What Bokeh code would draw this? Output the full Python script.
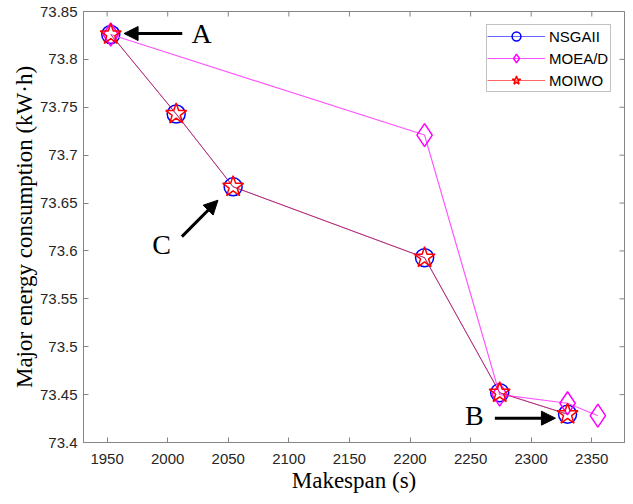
import math
from bokeh.plotting import figure
from bokeh.models import Range1d, FixedTicker, Arrow, NormalHead, Legend, LegendItem
from bokeh.core.properties import value
from bokeh.embed import file_html
from bokeh.resources import INLINE

# ---- data ----
nsga_x = [1953, 2007, 2054, 2212, 2274, 2330]
nsga_y = [73.826, 73.743, 73.667, 73.593, 73.452, 73.4295]
moead_x = [1953, 2212, 2274, 2330, 2355]
moead_y = [73.826, 73.721, 73.450, 73.441, 73.428]
moiwo_x = [1953, 2007, 2054, 2212, 2274, 2330]
moiwo_y = [73.826, 73.743, 73.667, 73.593, 73.452, 73.4295]

x_lim = [1930.5, 2377]
y_lim = [73.4, 73.85]
x_ticks = [1950, 2000, 2050, 2100, 2150, 2200, 2250, 2300, 2350]
y_ticks = [73.4, 73.45, 73.5, 73.55, 73.6, 73.65, 73.7, 73.75, 73.8, 73.85]
y_tick_labels = ["73.4", "73.45", "73.5", "73.55", "73.6", "73.65", "73.7", "73.75", "73.8", "73.85"]

# annotations: label, text position, arrow tail, arrow tip
ann_labels = ["A", "C", "B"]
ann_text_x = [2028, 1995, 2253]
ann_text_y = [73.827, 73.607, 73.428]
arrow_x0 = [2012, 2011.7, 2270]
arrow_y0 = [73.827, 73.615, 73.4254]
arrow_x1 = [1964, 2041.5, 2320]
arrow_y1 = [73.827, 73.653, 73.4254]

AX = "#858585"
TXT = "#262626"

p = figure(width=625, height=496, output_backend="svg", toolbar_location=None,
           x_range=Range1d(*x_lim), y_range=Range1d(*y_lim),
           min_border_left=83, min_border_right=1, min_border_top=11, min_border_bottom=54)
p.grid.visible = False
p.outline_line_color = AX
p.background_fill_color = "white"

for ax in (p.xaxis[0], p.yaxis[0]):
    ax.axis_line_color = AX
    ax.major_tick_line_color = AX
    ax.major_tick_in = 5
    ax.major_tick_out = 0
    ax.minor_tick_line_color = None
    ax.major_label_text_font = "Liberation Sans"
    ax.major_label_text_font_size = "15px"
    ax.major_label_text_color = TXT
    ax.major_label_text_line_height = 1.0
    ax.axis_label_text_font = "Liberation Serif"
    ax.axis_label_text_font_size = "23px"
    ax.axis_label_text_font_style = "normal"
    ax.axis_label_text_color = "black"
    ax.axis_label_text_line_height = 0.9

p.xaxis.ticker = FixedTicker(ticks=x_ticks)
p.yaxis.ticker = FixedTicker(ticks=y_ticks)
p.yaxis.major_label_overrides = {t: l for t, l in zip(y_ticks, y_tick_labels)}
p.xaxis.axis_label = "Makespan (s)"
p.yaxis.axis_label = "Major energy consumption (kW\u00b7h)"
p.xaxis.major_label_standoff = 11
p.yaxis.major_label_standoff = 6
p.xaxis.axis_label_standoff = 1
p.yaxis.axis_label_standoff = 0

# inward ticks on the top and right edges of the box
p.scatter(x=[x_lim[1]] * len(y_ticks), y=y_ticks, marker="dash", size=10, line_color=AX, line_width=1)
p.scatter(x=x_ticks, y=[y_lim[1]] * len(x_ticks), marker="dash", angle=math.pi / 2, size=10,
          line_color=AX, line_width=1)

# series
l1 = p.line(nsga_x, nsga_y, line_color="#0000ff", line_width=1, line_alpha=0.6)
m1 = p.scatter(nsga_x, nsga_y, marker="circle", size=18, fill_color=None,
               line_color="#0000ff", line_width=1.5)
l2 = p.line(moead_x, moead_y, line_color="#ff55ff", line_width=1.2)
m2 = p.scatter(moead_x, moead_y, marker="diamond", size=23, fill_color=None,
               line_color="#ff00ff", line_width=1.5)
l3 = p.line(moiwo_x, moiwo_y, line_color="#ff0000", line_width=1, line_alpha=0.6)
m3 = p.scatter(moiwo_x, moiwo_y, marker="star", size=22, fill_color=None,
               line_color="#ff0000", line_width=1.5)

legend = Legend(items=[LegendItem(label="NSGAII", renderers=[l1, m1]),
                       LegendItem(label="MOEA/D", renderers=[l2, m2]),
                       LegendItem(label="MOIWO", renderers=[l3, m3])],
                location="top_right")
legend.margin = 13
legend.padding = 0
legend.spacing = 0
legend.glyph_width = 58
legend.glyph_height = 22
legend.label_height = 22
legend.label_width = 61
legend.label_standoff = 4
legend.label_text_font = "Liberation Sans"
legend.label_text_font_size = "15px"
legend.label_text_color = "black"
legend.border_line_color = AX
legend.border_line_width = 1
legend.background_fill_color = "white"
legend.background_fill_alpha = 1
p.add_layout(legend)

# annotations
for i in range(len(ann_labels)):
    p.add_layout(Arrow(end=NormalHead(size=14, fill_color="black", line_color="black"),
                       x_start=arrow_x0[i], y_start=arrow_y0[i],
                       x_end=arrow_x1[i], y_end=arrow_y1[i],
                       line_color="black", line_width=3))
p.text(x=ann_text_x, y=ann_text_y, text=ann_labels, text_font=value("Liberation Serif"),
       text_font_size="28px", text_align="center", text_baseline="middle", text_color="black")

open("out.html", "w").write(file_html(p, INLINE))
